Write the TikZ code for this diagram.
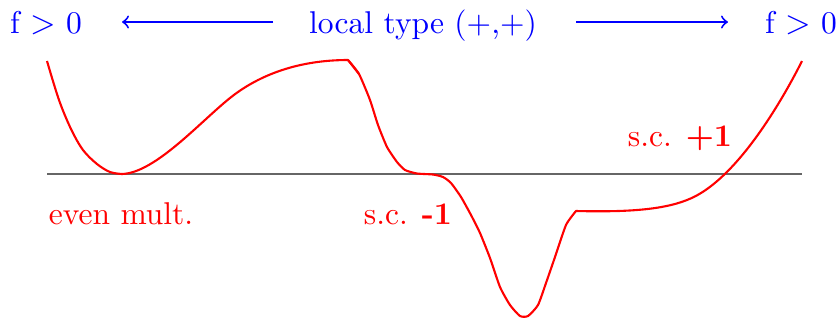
\documentclass[tikz,border=0pt]{standalone}
\usetikzlibrary{arrows.meta}
\begin{document}
\begin{tikzpicture}[x=0.3333pt,y=-0.3333pt,
  font=\fontsize{10.5}{12.6}\selectfont,
  bluetxt/.style={text=blue,inner sep=0pt,anchor=base},
  redtxt/.style={text=red,inner sep=0pt,anchor=base},
  bluearrow/.style={draw=blue,line width=0.65pt,-to},
  curve/.style={draw=red,line width=0.7pt,line join=round},
  axis/.style={draw=black!60,line width=0.45pt}]
\useasboundingbox (0,0) rectangle (838,320);
% top labels
\node[bluetxt] (fl) at (46,33) {f $>$ 0};
\node[bluetxt] (lt) at (423,33) {local type (+,+)};
\node[bluetxt] (fr) at (801,33) {f $>$ 0};
\coordinate (la) at (273,22);
\coordinate (lb) at (122,22);
\coordinate (ra) at (576,22);
\coordinate (rb) at (728,22);
\draw[bluearrow] (la) -- (lb);
\draw[bluearrow] (ra) -- (rb);
% axis
\coordinate (ax1) at (47,174);
\coordinate (ax2) at (802,174);
\draw[axis] (ax1) -- (ax2);
% curve
\draw[curve] plot[smooth,tension=0.55] coordinates {(47,61) (59,100) (71,129) (83,150) (97,164) (110,172) (122,174)}
  .. controls (155,173) and (200,122) .. (230,98)
  .. controls (260,74) and (300,60) .. (348,60)
  -- (359,74);
\draw[curve] plot[smooth,tension=0.35] coordinates {(348,60)
 (359,74) (370,100) (378,125) (387,147) (397,162) (405,170)
 (417,173.5) (433,174.5) (443,177) (451,183) (461,197) (471,215)
 (480,233) (490,258) (500,287) (510,305) (520,316) (528,316)
 (538,305) (546,283) (555,257) (566,225) (576,211)}
  .. controls (620,212) and (660,210.8) .. (687,200)
  .. controls (740,180) and (790,85) .. (802,61);
% lower labels
\node[redtxt] (em) at (121,224) {even mult.};
\node[redtxt] (scm) at (408,224) {s.c. \textbf{-1}};
\node[redtxt] (scp) at (680,146) {s.c. \textbf{+1}};
\end{tikzpicture}
\end{document}
